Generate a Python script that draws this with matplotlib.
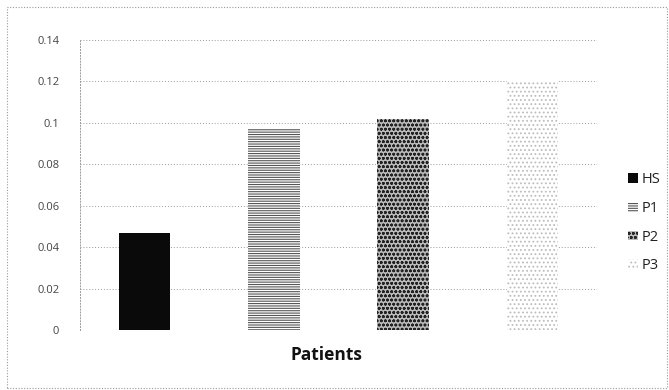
import matplotlib

matplotlib.use("Agg")
import matplotlib.pyplot as plt
from matplotlib.patches import Rectangle

# values
groups = ["HS", "P1", "P2", "P3"]
values = [0.047, 0.097, 0.102, 0.12]
yticks = [0, 0.02, 0.04, 0.06, 0.08, 0.1, 0.12, 0.14]
ytick_labels = ["0", "0.02", "0.04", "0.06", "0.08", "0.1", "0.12", "0.14"]

plt.rcParams["font.family"] = ["Open Sans", "DejaVu Sans"]
plt.rcParams["hatch.linewidth"] = 0.8

fig = plt.figure(figsize=(6.69, 3.90), dpi=100)
ax = fig.add_axes([80 / 669, 1 - 330 / 390, 517 / 669, 290 / 390])

styles = [
    dict(facecolor="#0a0a0a", edgecolor="#0a0a0a", hatch=None),
    dict(facecolor="white", edgecolor="#555555", hatch="-------"),
    dict(facecolor="#bbbbbb", edgecolor="#222222", hatch="oooo"),
    dict(facecolor="white", edgecolor="#bdbdbd", hatch="...."),
]

for i, (g, v) in enumerate(zip(groups, values)):
    st = styles[i]
    ax.bar(i, v, width=0.4, facecolor=st["facecolor"], edgecolor=st["edgecolor"],
           hatch=st["hatch"], linewidth=0, label=g, zorder=3)

ax.set_xlim(-0.5, 3.5)
ax.set_ylim(0, 0.14)
ax.set_yticks(yticks)
ax.set_yticklabels(ytick_labels, fontsize=8, color="#444444")
ax.set_xticks([])
ax.tick_params(axis="y", length=0, pad=15)
ax.yaxis.grid(True, linestyle=(0, (1, 2)), color="#9a9a9a", linewidth=0.7, zorder=0)
for side in ["top", "right", "bottom"]:
    ax.spines[side].set_visible(False)
ax.spines["left"].set_linestyle((0, (1, 2)))
ax.spines["left"].set_color("#9a9a9a")
ax.spines["left"].set_linewidth(0.7)

fig.text(0.488, 1 - 355 / 390, "Patients", ha="center", va="center",
         fontsize=12.5, fontweight="bold", color="#111111")

leg = ax.legend(loc="center left", bbox_to_anchor=(1.035, 0.37), frameon=False,
                fontsize=10.5, handlelength=0.65, handleheight=0.65,
                handletextpad=0.3, labelspacing=0.95)
for t in leg.get_texts():
    t.set_color("#222222")

# dotted chart-area border
fig.patches.append(Rectangle((7 / 669, 2 / 390), 660 / 669, 381 / 390,
                             transform=fig.transFigure, fill=False,
                             edgecolor="#9a9a9a", linewidth=0.8,
                             linestyle=(0, (1, 1.5))))

fig.savefig("out.png", dpi=100)
